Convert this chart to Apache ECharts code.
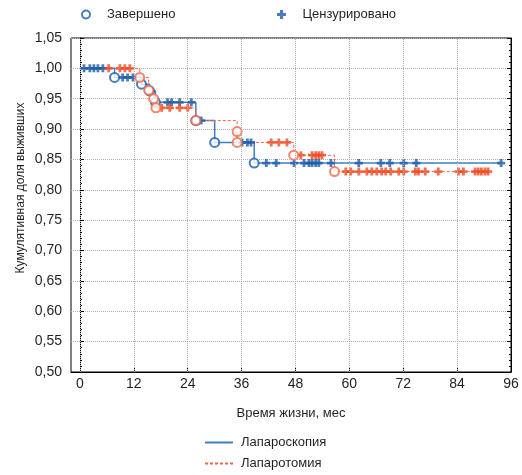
<!DOCTYPE html>
<html>
<head>
<meta charset="utf-8">
<script src="https://cdn.jsdelivr.net/npm/echarts@6/dist/echarts.min.js"></script>
<style>
html,body{margin:0;padding:0;background:#fff;}
#c{width:522px;height:475px;}
</style>
</head>
<body>
<div id="c"></div>
<script>
// ---- data ----
const xTicks = [0, 12, 24, 36, 48, 60, 72, 84, 96];
const yTicks = [0.50, 0.55, 0.60, 0.65, 0.70, 0.75, 0.80, 0.85, 0.90, 0.95, 1.00, 1.05];

// Kaplan–Meier steps [time, survival]
const lapSteps = [[0,1.00],[7.7,0.985],[13.7,0.974],[15.5,0.963],[16.8,0.944],[25.8,0.914],[30.0,0.878],[38.8,0.844],[93.8,0.844]];
const openSteps = [[0,1.00],[13.3,0.985],[15.3,0.964],[16.4,0.950],[16.9,0.935],[25.8,0.914],[35.0,0.896],[35.0,0.878],[47.6,0.857],[56.7,0.830],[90.9,0.830]];

// censored observations [time, survival]
const lapCensored = [
  [0.9,1.00],[2.2,1.00],[3.1,1.00],[4.0,1.00],[5.1,1.00],
  [9.5,0.985],[10.6,0.985],[11.8,0.985],
  [19.5,0.944],[20.4,0.944],[22.2,0.944],[24.8,0.944],
  [27.0,0.914],
  [36.1,0.878],[37.3,0.878],[38.1,0.878],
  [41.5,0.844],[43.7,0.844],[47.7,0.844],[49.9,0.844],[51.0,0.844],[51.7,0.844],[52.5,0.844],[53.2,0.844],[55.9,0.844],[62.1,0.844],[67.0,0.844],[69.0,0.844],[72.1,0.844],[74.9,0.844],[93.8,0.844]
];
const openCensored = [
  [6.4,1.00],[8.9,1.00],[10.0,1.00],[11.1,1.00],
  [18.2,0.935],[20.0,0.935],[22.2,0.935],[24.0,0.935],
  [42.6,0.878],[44.3,0.878],[46.1,0.878],
  [49.2,0.857],[51.7,0.857],[52.5,0.857],[53.2,0.857],[53.9,0.857],
  [59.2,0.83],[60.3,0.83],[62.1,0.83],[63.9,0.83],[65.0,0.83],[66.1,0.83],[67.2,0.83],[68.1,0.83],[69.2,0.83],[71.0,0.83],[72.1,0.83],[74.7,0.83],[75.4,0.83],[76.9,0.83],[79.8,0.83],[84.3,0.83],[85.4,0.83],[88.0,0.83],[88.7,0.83],[89.4,0.83],[90.2,0.83],[90.9,0.83]
];

const names = {lap:'Лапароскопия', open:'Лапаротомия', event:'Завершено', cens:'Цензурировано'};
const yName = 'Кумулятивная доля выживших';

// ---- chart ----
const FONT = '"Liberation Sans", Arial, sans-serif';
const TXT = '#231f20';
const BLUE_LINE = '#3f7cc5', BLUE_MARK = '#1d5ca8';
const RED_LINE = '#f06848', RED_MARK = '#f04a22';
const PLUS = 'path://M2.6,0h2.8v2.6h2.6v2.8h-2.6v2.6h-2.8v-2.6h-2.6v-2.8h2.6z';
const fmt = v => Number(v).toFixed(2).replace('.', ',');

const chart = echarts.init(document.getElementById('c'), null, {renderer:'canvas'});
chart.setOption({
  animation:false,
  backgroundColor:'#fff',
  textStyle:{fontFamily:FONT, color:TXT},
  grid:{left:71, right:11, top:38, bottom:103, show:true, borderColor:'#000', borderWidth:1, backgroundColor:'transparent'},
  legend:[
    {left:76, top:3, data:[names.event], itemWidth:32, itemHeight:8, padding:5,
     textStyle:{fontFamily:FONT, fontSize:13, color:TXT}},
    {left:272, top:3, data:[names.cens], itemWidth:32, itemHeight:9, padding:5,
     textStyle:{fontFamily:FONT, fontSize:13, color:TXT}},
    {left:204, top:436, orient:'vertical', data:[names.lap, names.open], itemWidth:28, itemHeight:14, itemGap:8, padding:0,
     itemStyle:{opacity:0},
     textStyle:{fontFamily:FONT, fontSize:13, color:TXT, padding:[0,0,0,3]}}
  ],
  graphic:[{
    type:'text', x:21, y:188, rotation:Math.PI/2,
    style:{text:yName, fontFamily:FONT, fontSize:12, fill:TXT, align:'center', verticalAlign:'middle'}
  }],
  xAxis:{
    type:'value', min:-2, max:96,
    name:'Время жизни, мес', nameLocation:'middle', nameGap:35,
    nameTextStyle:{fontFamily:FONT, fontSize:13, color:TXT},
    axisLine:{show:true, lineStyle:{color:'#000', width:1}},
    axisTick:{show:true, inside:true, length:4, customValues:xTicks, lineStyle:{color:'#000'}},
    axisLabel:{customValues:xTicks, fontFamily:FONT, fontSize:14, color:TXT, margin:5},
    splitLine:{show:false}
  },
  yAxis:[{
    type:'value', min:0.5, max:1.05, interval:0.05,
    axisLine:{show:true, lineStyle:{color:'#000', width:1}},
    axisTick:{show:true, inside:true, length:4, lineStyle:{color:'#000'}},
    minorTick:{show:true, splitNumber:5, length:2, lineStyle:{color:'#000'}},
    axisLabel:{formatter:fmt, fontFamily:FONT, fontSize:14, color:TXT, margin:9},
    splitLine:{show:true, lineStyle:{color:'#b0b0b0', type:'dotted', width:1}}
  },{
    type:'value', min:0.5, max:1.05, interval:0.05, position:'right',
    axisLine:{show:true, lineStyle:{color:'#000', width:1}},
    axisTick:{show:true, inside:true, length:4, lineStyle:{color:'#000'}},
    minorTick:{show:true, splitNumber:5, length:2, lineStyle:{color:'#000'}},
    axisLabel:{show:false},
    splitLine:{show:false}
  }],
  series:[
    {name:names.lap, type:'line', step:'end', data:lapSteps, symbol:'none', showSymbol:false, z:2,
     lineStyle:{color:BLUE_LINE, width:1.5}, itemStyle:{color:BLUE_LINE},
     markLine:{silent:true, symbol:'none', label:{show:false},
       lineStyle:{color:'#b0b0b0', type:'dotted', width:1},
       data:xTicks.filter(v => v < 96).map(v => ({xAxis:v}))}},
    {name:names.open, type:'line', step:'end', data:openSteps, symbol:'none', showSymbol:false, z:2,
     lineStyle:{color:RED_LINE, width:1, type:[3,2]}, itemStyle:{color:RED_LINE}},
    {name:names.event, type:'scatter', data:lapSteps.slice(1,-1), symbol:'emptyCircle', symbolSize:9, z:4,
     itemStyle:{color:BLUE_MARK, borderColor:BLUE_MARK, borderWidth:1.5}},
    {name:names.event, type:'scatter', data:openSteps.slice(1,-1), symbol:'emptyCircle', symbolSize:9, z:4,
     itemStyle:{color:RED_LINE, borderColor:RED_LINE, borderWidth:1.5}},
    {name:names.cens, type:'scatter', data:lapCensored, symbol:PLUS, symbolSize:8, z:3,
     itemStyle:{color:BLUE_MARK}},
    {name:names.cens, type:'scatter', data:openCensored, symbol:PLUS, symbolSize:8, z:3,
     itemStyle:{color:RED_MARK}}
  ]
});
</script>
</body>
</html>
